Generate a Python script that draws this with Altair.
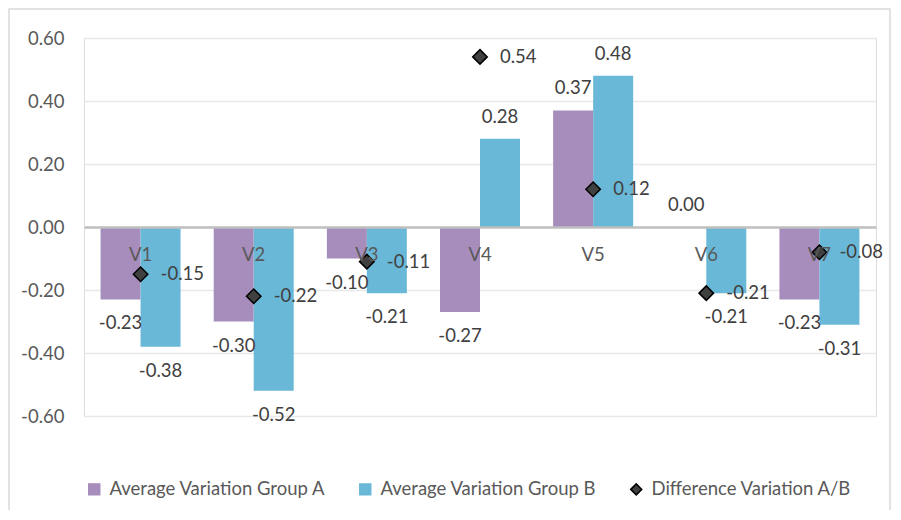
import altair as alt
import pandas as pd

categories = ["V1", "V2", "V3", "V4", "V5", "V6", "V7"]
group_a = [-0.23, -0.30, -0.10, -0.27, 0.37, 0.00, -0.23]
group_b = [-0.38, -0.52, -0.21, 0.28, 0.48, -0.21, -0.31]
difference = [-0.15, -0.22, -0.11, 0.54, 0.12, -0.21, -0.08]
series_names = ["Average Variation Group A", "Average Variation Group B", "Difference Variation A/B"]
y_ticks = [-0.6, -0.4, -0.2, 0.0, 0.2, 0.4, 0.6]

colors = ["#A68DBB", "#6AB8D8", "#404040"]
strokes = ["#A68DBB", "#6AB8D8", "#000000"]
shapes = ["square", "square", "diamond"]

W, H = 792, 378
FONT = "Lato"
FS = 18.5

bars_df = pd.DataFrame({
    "cat": categories * 2,
    "series": [series_names[0]] * len(categories) + [series_names[1]] * len(categories),
    "value": group_a + group_b,
})
diff_df = pd.DataFrame({
    "cat": categories,
    "series": [series_names[2]] * len(categories),
    "value": difference,
})

LABEL_EXPR = "replace(format(datum.value, '.2f'), '\u2212', '-')"

x_scale = alt.Scale(domain=categories, paddingInner=0.293, paddingOuter=0.1465)
y_scale = alt.Scale(domain=[-0.6, 0.6], nice=False, zero=False)
color_scale = alt.Scale(domain=series_names, range=colors)

x_enc = alt.X("cat:N", scale=x_scale, sort=categories,
              axis=alt.Axis(orient="bottom", offset=-H / 2, title=None, labelAngle=0,
                            ticks=False, domainColor="#bfbfbf", domainWidth=2.5,
                            labelColor="#595959", labelFontSize=FS, labelPadding=18,
                            labelFont=FONT, zindex=1, grid=False))
y_enc = alt.Y("value:Q", scale=y_scale,
              axis=alt.Axis(values=y_ticks, format=".2f", title=None, ticks=False,
                            labelExpr="replace(datum.label, '\u2212', '-')",
                            domain=False, labelColor="#595959", labelFontSize=FS,
                            labelFont=FONT, labelPadding=20, gridColor="#e8e8e8",
                            gridWidth=1.5))
xoff = alt.XOffset("series:N", scale=alt.Scale(domain=series_names[:2], paddingInner=0, paddingOuter=0))

frame = alt.Chart(pd.DataFrame({"k": [0]})).mark_rect(
    fill=None, stroke="#d9d9d9", strokeWidth=1.5
).encode(x=alt.value(-75), x2=alt.value(W + 14), y=alt.value(-29), y2=alt.value(H + 130))

bars = alt.Chart(bars_df).mark_bar().encode(
    x=x_enc,
    xOffset=xoff,
    y=y_enc,
    color=alt.Color("series:N", scale=color_scale,
                    legend=alt.Legend(title=None, orient="none", direction="horizontal",
                                      columns=3, legendX=1, legendY=442,
                                      labelFontSize=FS, labelColor="#595959",
                                      labelFont=FONT, symbolSize=120, labelLimit=0,
                                      columnPadding=30, labelOffset=6,
                                      symbolStrokeWidth=1.5)),
)

bar_labels_pos = alt.Chart(bars_df).transform_filter("datum.value >= 0").transform_calculate(
    lbl=LABEL_EXPR
).mark_text(
    dy=-22, baseline="middle", fontSize=FS, font=FONT, color="#404040"
).encode(x=alt.X("cat:N", scale=x_scale, sort=categories), xOffset=xoff,
         y=alt.Y("value:Q", scale=y_scale), text="lbl:N")

bar_labels_neg = alt.Chart(bars_df).transform_filter("datum.value < 0").transform_calculate(
    lbl=LABEL_EXPR
).mark_text(
    dy=24, baseline="middle", fontSize=FS, font=FONT, color="#404040"
).encode(x=alt.X("cat:N", scale=x_scale, sort=categories), xOffset=xoff,
         y=alt.Y("value:Q", scale=y_scale), text="lbl:N")

points = alt.Chart(diff_df).mark_point(filled=True, size=210, strokeWidth=1.5, opacity=1).encode(
    x=alt.X("cat:N", scale=x_scale, sort=categories),
    y=alt.Y("value:Q", scale=y_scale),
    color=alt.Color("series:N", scale=color_scale),
    stroke=alt.Stroke("series:N", scale=alt.Scale(domain=series_names, range=strokes)),
    shape=alt.Shape("series:N", scale=alt.Scale(domain=series_names, range=shapes)),
)

diff_labels = alt.Chart(diff_df).transform_calculate(lbl=LABEL_EXPR).mark_text(
    align="left", dx=20, baseline="middle", fontSize=FS, font=FONT, color="#404040"
).encode(x=alt.X("cat:N", scale=x_scale, sort=categories),
         y=alt.Y("value:Q", scale=y_scale), text="lbl:N")

chart = alt.layer(frame, bars, bar_labels_pos, bar_labels_neg, points, diff_labels).properties(
    width=W, height=H,
    autosize=alt.AutoSizeParams(type="none"),
    padding={"left": 76, "top": 30, "right": 15, "bottom": 94},
).configure_view(stroke=None).configure(font=FONT)

chart.save("out.html", embed_options={"renderer": "svg", "actions": False})
